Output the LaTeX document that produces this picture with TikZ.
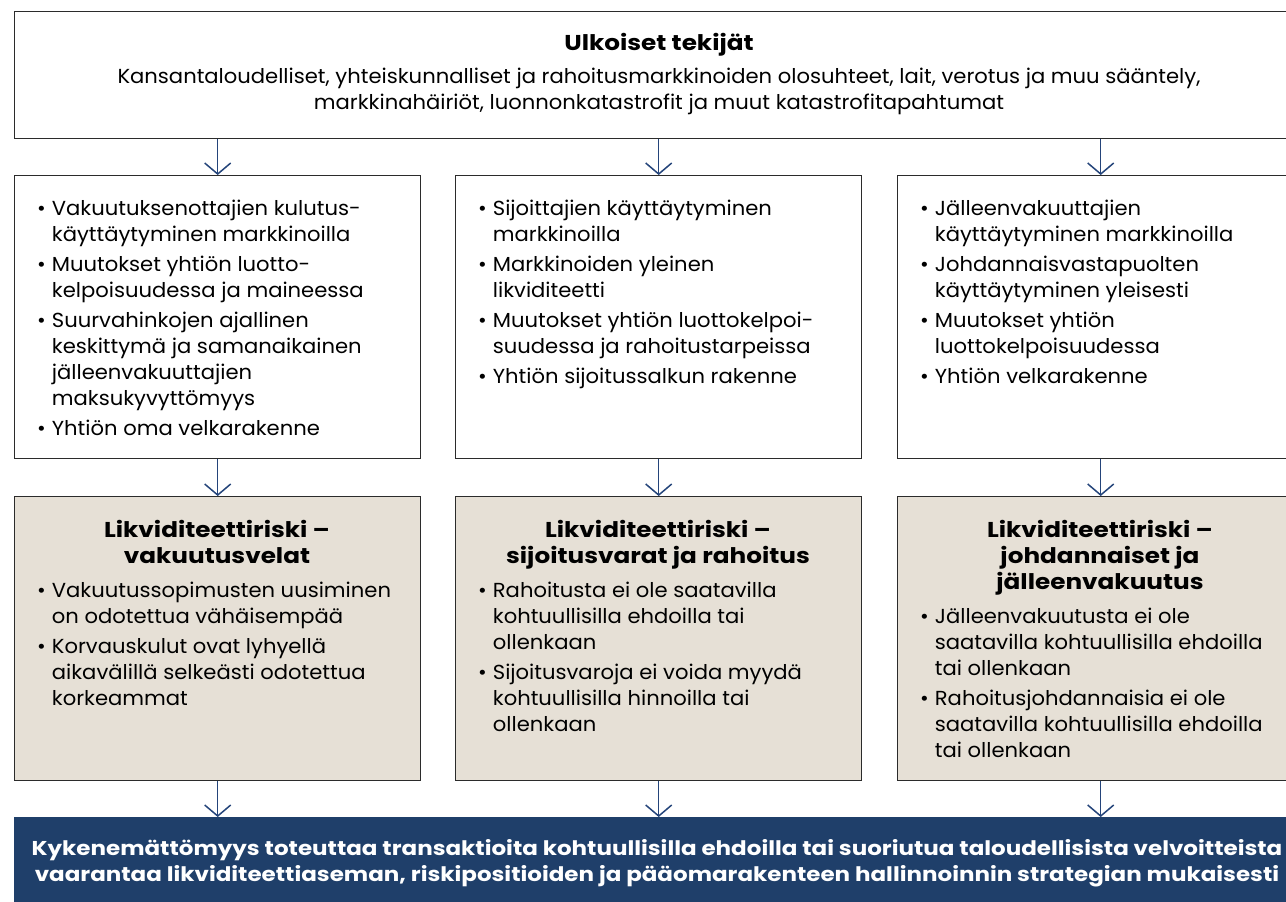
\documentclass[tikz,border=0pt]{standalone}
\usepackage{fontspec}
\setmainfont{Poppins}[UprightFeatures={FakeStretch=1.04}, BoldFeatures={FakeStretch=1.15}]
\usetikzlibrary{arrows.meta}

\definecolor{navy}{HTML}{1F3F6A}
\definecolor{arrowblue}{HTML}{24447A}
\definecolor{sand}{HTML}{E6E0D6}
\definecolor{frame}{HTML}{2B2B2B}

\newcommand{\bodyfont}{\fontsize{20.3}{26}\selectfont}
\newcommand{\headfont}{\fontsize{21.5}{26}\selectfont\bfseries}
\newcommand{\footfont}{\fontsize{20}{26}\selectfont\bfseries}

\tikzset{
  panel/.style={draw=frame, line width=1.4pt, anchor=north west, inner sep=0,
                minimum width=406pt, minimum height=283pt},
  riskpanel/.style={panel, fill=sand, minimum height=284pt},
  banner/.style={draw=frame, line width=1.4pt, anchor=north west, inner sep=0,
                 minimum width=1290pt, minimum height=127pt},
  resultbar/.style={fill=navy, anchor=north west, inner sep=0,
                    minimum width=1290pt, minimum height=100pt},
  flow/.style={draw=arrowblue, line width=1.5pt,
               -{Straight Barb[length=11pt, width=26pt, line width=1.5pt]}},
  listtext/.style={anchor=base west, inner sep=0, text=black},
  headtext/.style={anchor=base, inner sep=0, text=black},
}

\begin{document}
\begin{tikzpicture}[x=1pt, y=-1pt]
\useasboundingbox (0,0) rectangle (1286,902);
\clip (0,0) rectangle (1286,902);

% boxes
\node[banner] (ext) at (14,11) {};
\node[panel] (m1) at (14,175) {};
\node[panel] (m2) at (455,175) {};
\node[panel] (m3) at (897,175) {};
\node[riskpanel] (r1) at (14,496) {};
\node[riskpanel] (r2) at (455,496) {};
\node[riskpanel] (r3) at (897,496) {};
\node[resultbar] (res) at (14,817) {};

% connectors
\foreach \c in {1,2,3}{
  \draw[flow] (ext.south -| m\c.north) -- (m\c.north);
  \draw[flow] (m\c.south) -- (r\c.north);
  \draw[flow] (r\c.south) -- (res.north -| r\c.south);
}

% external factors
\node[headtext] (exttitle) at (659,50) {\begin{tabular}[t]{@{}c@{}}\headfont Ulkoiset tekijät\end{tabular}};
\node[headtext] (extbody) at (659,83) {\bodyfont\begin{tabular}[t]{@{}c@{}}
Kansantaloudelliset, yhteiskunnalliset ja rahoitusmarkkinoiden olosuhteet, lait, verotus ja muu sääntely,\\
markkinahäiriöt, luonnonkatastrofit ja muut katastrofitapahtumat
\end{tabular}};

% drivers
\node[listtext] (t1) at (37,215.5) {\bodyfont\begin{tabular}[t]{@{}l@{\hspace{6pt}}l@{}}
\textbullet & Vakuutuksenottajien kulutus-\\
 & käyttäytyminen markkinoilla\\[4pt]
\textbullet & Muutokset yhtiön luotto-\\
 & kelpoisuudessa ja maineessa\\[4pt]
\textbullet & Suurvahinkojen ajallinen\\
 & keskittymä ja samanaikainen\\
 & jälleenvakuuttajien\\
 & maksukyvyttömyys\\[4pt]
\textbullet & Yhtiön oma velkarakenne
\end{tabular}};

\node[listtext] (t2) at (478,215.5) {\bodyfont\begin{tabular}[t]{@{}l@{\hspace{6pt}}l@{}}
\textbullet & Sijoittajien käyttäytyminen\\
 & markkinoilla\\[4pt]
\textbullet & Markkinoiden yleinen\\
 & likviditeetti\\[4pt]
\textbullet & Muutokset yhtiön luottokelpoi-\\
 & suudessa ja rahoitustarpeissa\\[4pt]
\textbullet & Yhtiön sijoitussalkun rakenne
\end{tabular}};

\node[listtext] (t3) at (920,215.5) {\bodyfont\begin{tabular}[t]{@{}l@{\hspace{6pt}}l@{}}
\textbullet & Jälleenvakuuttajien\\
 & käyttäytyminen markkinoilla\\[4pt]
\textbullet & Johdannaisvastapuolten\\
 & käyttäytyminen yleisesti\\[4pt]
\textbullet & Muutokset yhtiön\\
 & luottokelpoisuudessa\\[4pt]
\textbullet & Yhtiön velkarakenne
\end{tabular}};

% liquidity risks
\node[headtext] (h1) at (217,537) {\headfont\begin{tabular}[t]{@{}c@{}}
Likviditeettiriski –\\ vakuutusvelat\end{tabular}};
\node[listtext] (b1) at (37,597.5) {\bodyfont\begin{tabular}[t]{@{}l@{\hspace{6pt}}l@{}}
\textbullet & Vakuutussopimusten uusiminen\\
 & on odotettua vähäisempää\\[4pt]
\textbullet & Korvauskulut ovat lyhyellä\\
 & aikavälillä selkeästi odotettua\\
 & korkeammat
\end{tabular}};

\node[headtext] (h2) at (658,537) {\headfont\begin{tabular}[t]{@{}c@{}}
Likviditeettiriski –\\ sijoitusvarat ja rahoitus\end{tabular}};
\node[listtext] (b2) at (478,597.5) {\bodyfont\begin{tabular}[t]{@{}l@{\hspace{6pt}}l@{}}
\textbullet & Rahoitusta ei ole saatavilla\\
 & kohtuullisilla ehdoilla tai\\
 & ollenkaan\\[4pt]
\textbullet & Sijoitusvaroja ei voida myydä\\
 & kohtuullisilla hinnoilla tai\\
 & ollenkaan
\end{tabular}};

\node[headtext] (h3) at (1100,537) {\headfont\begin{tabular}[t]{@{}c@{}}
Likviditeettiriski –\\ johdannaiset ja\\ jälleenvakuutus\end{tabular}};
\node[listtext] (b3) at (920,623.5) {\bodyfont\begin{tabular}[t]{@{}l@{\hspace{6pt}}l@{}}
\textbullet & Jälleenvakuutusta ei ole\\
 & saatavilla kohtuullisilla ehdoilla\\
 & tai ollenkaan\\[4pt]
\textbullet & Rahoitusjohdannaisia ei ole\\
 & saatavilla kohtuullisilla ehdoilla\\
 & tai ollenkaan
\end{tabular}};

% consequence
\node[headtext, text=white] (restext) at (657,855.5) {\footfont\begin{tabular}[t]{@{}c@{}}
Kykenemättömyys toteuttaa transaktioita kohtuullisilla ehdoilla tai suoriutua taloudellisista velvoitteista\\
vaarantaa likviditeettiaseman, riskipositioiden ja pääomarakenteen hallinnoinnin strategian mukaisesti
\end{tabular}};

\end{tikzpicture}
\end{document}
